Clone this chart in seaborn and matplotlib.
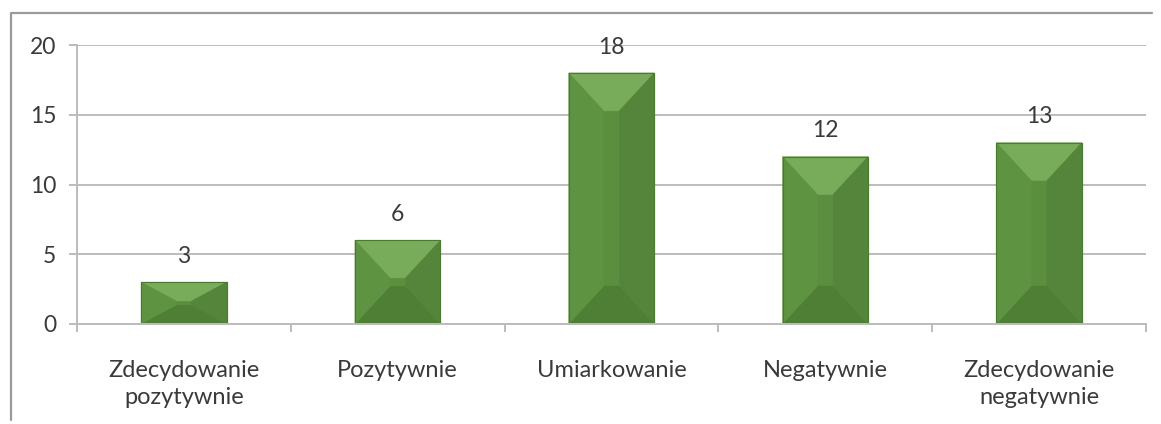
import matplotlib
matplotlib.use("Agg")
import matplotlib.pyplot as plt
from matplotlib.patches import Polygon
from matplotlib.lines import Line2D
import seaborn as sns
import pandas as pd
import numpy as np

categories = ["Zdecydowanie\npozytywnie", "Pozytywnie", "Umiarkowanie",
              "Negatywnie", "Zdecydowanie\nnegatywnie"]
counts = [3, 6, 18, 12, 13]
y_ticks = [0, 5, 10, 15, 20]

sns.set_theme(style="white")
plt.rcParams["font.family"] = ["Lato", "DejaVu Sans"]

df = pd.DataFrame({"kategoria": categories, "liczba": counts})

fig = plt.figure(figsize=(11.61, 4.24), dpi=100)
ax = fig.add_axes([77 / 1161, 1 - 324 / 424, (1146 - 77) / 1161, (324 - 45) / 424])

sns.barplot(data=df, x="kategoria", y="liczba", color="#5a8f3e",
            width=0.40, ax=ax, saturation=1, edgecolor="#4a7a30", linewidth=0.8)

ax.set_ylim(0, 20)
ax.set_xlim(-0.5, len(categories) - 0.5)
ax.set_yticks(y_ticks)
ax.set_xlabel("")
ax.set_ylabel("")

text_col = "#3a3a3a"
grid_col = "#bcbcbc"
ax.yaxis.grid(True, color=grid_col, linewidth=1.4)
ax.set_axisbelow(True)
for side in ["top", "right"]:
    ax.spines[side].set_visible(False)
ax.spines["left"].set_color(grid_col)
ax.spines["left"].set_linewidth(1.4)
ax.spines["bottom"].set_color(grid_col)
ax.spines["bottom"].set_linewidth(1.4)

ax.tick_params(axis="y", which="major", length=6, width=1.4, color=grid_col,
               labelsize=16.5, labelcolor=text_col, pad=9, left=True)
ax.tick_params(axis="x", which="major", length=0, labelsize=17, labelcolor=text_col, pad=26)
ax.set_xticks(np.arange(-0.5, len(categories), 1.0), minor=True)
ax.tick_params(axis="x", which="minor", length=6, width=1.4, color=grid_col, bottom=True)
for lbl in ax.get_xticklabels():
    lbl.set_linespacing(1.35)

# bevelled faces on each bar, built from the bar geometry in pixel space
fig.canvas.draw()
to_px = ax.transData
to_data = ax.transData.inverted()
face_cols = {"top": "#78ac5a", "left": "#5e9342", "center": "#5b8f3f",
             "right": "#54853a", "bottom": "#4f7f35"}
for patch, val in zip(ax.patches, counts):
    x0, w = patch.get_x(), patch.get_width()
    (px0, py0), (px1, py1) = to_px.transform([(x0, 0), (x0 + w, val)])
    h = py1 - py0
    d = min(38.0, h * 0.45)
    ih = min(35.0, (px1 - px0) / 2 - 5)
    ix0, ix1 = px0 + ih, px1 - ih
    iy0, iy1 = py0 + d, py1 - d
    faces = {
        "center": [(ix0, iy0), (ix1, iy0), (ix1, iy1), (ix0, iy1)],
        "top": [(px0, py1), (px1, py1), (ix1, iy1), (ix0, iy1)],
        "bottom": [(px0, py0), (px1, py0), (ix1, iy0), (ix0, iy0)],
        "left": [(px0, py0), (ix0, iy0), (ix0, iy1), (px0, py1)],
        "right": [(px1, py0), (ix1, iy0), (ix1, iy1), (px1, py1)],
    }
    for name, pts in faces.items():
        ax.add_patch(Polygon(to_data.transform(pts), closed=True,
                             facecolor=face_cols[name], edgecolor=face_cols[name],
                             linewidth=0.3, zorder=patch.get_zorder() + 0.1))
    ax.add_patch(Polygon(to_data.transform([(px0, py0), (px1, py0), (px1, py1), (px0, py1)]),
                         closed=True, facecolor="none", edgecolor="#4a7a30",
                         linewidth=0.8, zorder=patch.get_zorder() + 0.2))

for i, val in enumerate(counts):
    ax.annotate(str(val), xy=(i, val), xytext=(0, 11), textcoords="offset points",
                ha="center", va="bottom", fontsize=16.5, color=text_col)

# chart frame
fig.add_artist(Line2D([12 / 1161, 1152 / 1161], [1 - 13 / 424, 1 - 13 / 424],
                      transform=fig.transFigure, color="#9a9a9a", linewidth=1.6))
fig.add_artist(Line2D([11 / 1161, 11 / 1161], [1 - 13 / 424, 1 - 420 / 424],
                      transform=fig.transFigure, color="#9a9a9a", linewidth=1.6))

fig.savefig("out.png", dpi=100)
